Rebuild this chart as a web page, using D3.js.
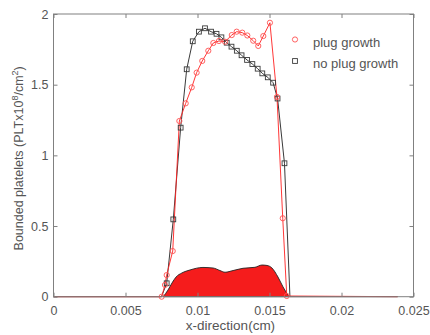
<!DOCTYPE html>
<html>
<head>
<meta charset="utf-8">
<script src="https://cdn.jsdelivr.net/npm/d3@7"></script>
<style>
  html, body { margin: 0; padding: 0; background: #fff; }
  svg { display: block; font-family: "Liberation Sans", Arial, sans-serif; }
</style>
</head>
<body>
<svg id="chart" width="430" height="335"></svg>
<script>
// ---- data ----
const xTicks = [0, 0.005, 0.01, 0.015, 0.02, 0.025];
const xTickLabels = ["0", "0.005", "0.01", "0.015", "0.02", "0.025"];
const yTicks = [0, 0.5, 1, 1.5, 2];
const yTickLabels = ["0", "0.5", "1", "1.5", "2"];

// plug growth (red circles)
const plugX = [0.00751, 0.00774, 0.00786, 0.00828, 0.00874, 0.00918, 0.0096, 0.00994, 0.01033, 0.01075,
               0.0111, 0.01149, 0.01191, 0.01238, 0.01272, 0.01311, 0.01346, 0.01387, 0.01422, 0.01457,
               0.01503, 0.01552, 0.01592, 0.0162];
const plugY = [0.0, 0.083, 0.153, 0.323, 1.243, 1.368, 1.481, 1.585, 1.668, 1.740,
               1.795, 1.809, 1.804, 1.851, 1.875, 1.868, 1.848, 1.811, 1.774, 1.844,
               1.938, 1.413, 0.555, 0.005];

// no plug growth (black squares)
const noPlugX = [0.00786, 0.00832, 0.00883, 0.00925, 0.00967, 0.0101, 0.01052, 0.01094, 0.01132, 0.01166,
                 0.01203, 0.01236, 0.01273, 0.01306, 0.01344, 0.01381, 0.01418, 0.0145, 0.01488, 0.01525,
                 0.01556, 0.01604];
const noPlugY = [0.095, 0.547, 1.196, 1.609, 1.807, 1.875, 1.899, 1.875, 1.860, 1.835,
                 1.797, 1.769, 1.740, 1.708, 1.675, 1.646, 1.613, 1.580, 1.552, 1.514,
                 1.402, 0.944];

// baseline portions of both lines (no markers)
const baseStartX = [0, 0.0075];
const baseEndX = [0.01642, 0.0239];

// filled region (plug thickness)
const fillX = [0.00762, 0.00795, 0.00823, 0.00851, 0.00892, 0.00948, 0.01038, 0.01108, 0.01156, 0.01191,
               0.01247, 0.01316, 0.01399, 0.01448, 0.01483, 0.01517, 0.01559, 0.01594, 0.01635];
const fillY = [0, 0.047, 0.097, 0.139, 0.168, 0.189, 0.207, 0.203, 0.185, 0.173,
               0.185, 0.201, 0.208, 0.224, 0.221, 0.203, 0.139, 0.069, 0];

const seriesNames = ["plug growth", "no plug growth"];

// ---- layout ----
const svg = d3.select("#chart");
const L = 53.5, R = 413.5, T = 14, B = 296.7;
const x = d3.scaleLinear().domain([0, 0.025]).range([L, R]);
const y = d3.scaleLinear().domain([0, 2]).range([B, T]);

const axisColor = "#808080";
const textColor = "#555";
const red = "#ff2020";
const dark = "#3a3a3a";

// fill area
const fillPts = fillX.map((d, i) => [d, fillY[i]]);
svg.append("path")
  .datum(fillPts)
  .attr("d", d3.area().x(d => x(d[0])).y0(y(0)).y1(d => y(d[1])).curve(d3.curveMonotoneX))
  .attr("fill", "#f51c1c")
  .attr("stroke", "#222")
  .attr("stroke-width", 0.9);

// lines
const line = d3.line().x(d => x(d[0])).y(d => y(d[1]));
const blackPts = baseStartX.map(v => [v, 0])
  .concat(noPlugX.map((d, i) => [d, noPlugY[i]]))
  .concat(baseEndX.map(v => [v, 0]));
const redPts = [[0, 0]]
  .concat(plugX.map((d, i) => [d, plugY[i]]))
  .concat([[baseEndX[1], 0]]);

svg.append("path").datum(blackPts).attr("d", line)
  .attr("fill", "none").attr("stroke", dark).attr("stroke-width", 1);
svg.append("path").datum(redPts).attr("d", line)
  .attr("fill", "none").attr("stroke", red).attr("stroke-width", 0.9);

// markers
svg.append("g").selectAll("rect")
  .data(noPlugX.map((d, i) => [d, noPlugY[i]]))
  .join("rect")
  .attr("x", d => x(d[0]) - 2.4).attr("y", d => y(d[1]) - 2.4)
  .attr("width", 4.8).attr("height", 4.8)
  .attr("fill", "none").attr("stroke", dark).attr("stroke-width", 0.9);

svg.append("g").selectAll("circle")
  .data(plugX.map((d, i) => [d, plugY[i]]))
  .join("circle")
  .attr("cx", d => x(d[0])).attr("cy", d => y(d[1]))
  .attr("r", 2.6)
  .attr("fill", "none").attr("stroke", "#ff5050").attr("stroke-width", 0.9);

// axes box
svg.append("rect").attr("x", L).attr("y", T).attr("width", R - L).attr("height", B - T)
  .attr("fill", "none").attr("stroke", axisColor).attr("stroke-width", 1);

const tl = 4;
const gx = svg.append("g").attr("transform", `translate(0,${B})`)
  .call(d3.axisBottom(x).tickValues(xTicks).tickSizeInner(-tl).tickSizeOuter(0).tickPadding(9)
    .tickFormat((d, i) => xTickLabels[i]));
const gxt = svg.append("g").attr("transform", `translate(0,${T})`)
  .call(d3.axisTop(x).tickValues(xTicks).tickSizeInner(-tl).tickSizeOuter(0).tickFormat(""));
const gy = svg.append("g").attr("transform", `translate(${L},0)`)
  .call(d3.axisLeft(y).tickValues(yTicks).tickSizeInner(-tl).tickSizeOuter(0).tickPadding(5)
    .tickFormat((d, i) => yTickLabels[i]));
const gyr = svg.append("g").attr("transform", `translate(${R},0)`)
  .call(d3.axisRight(y).tickValues(yTicks).tickSizeInner(-tl).tickSizeOuter(0).tickFormat(""));

[gx, gxt, gy, gyr].forEach(g => {
  g.select(".domain").remove();
  g.selectAll("line").attr("stroke", axisColor);
  g.selectAll("text").attr("fill", textColor).style("font-size", "12.5px")
    .style("font-family", "'Liberation Sans', Arial, sans-serif");
});

// axis labels
svg.append("text")
  .attr("x", (L + R) / 2 - 3).attr("y", 330)
  .attr("text-anchor", "middle").attr("fill", textColor)
  .style("font-size", "13.5px")
  .text("x-direction(cm)");

const yl = svg.append("text")
  .attr("transform", `translate(23,${(T + B) / 2 + 3}) rotate(-90)`)
  .attr("text-anchor", "middle").attr("fill", textColor)
  .style("font-size", "12.5px");
yl.append("tspan").text("Bounded platelets (PLTx10");
yl.append("tspan").attr("dy", -5).style("font-size", "9px").text("8");
yl.append("tspan").attr("dy", 5).text("/cm");
yl.append("tspan").attr("dy", -5).style("font-size", "9px").text("2");
yl.append("tspan").attr("dy", 5).text(")");

// legend
const lg = svg.append("g");
lg.append("circle").attr("cx", 295).attr("cy", 39.5).attr("r", 2.6)
  .attr("fill", "none").attr("stroke", "#ff5050").attr("stroke-width", 0.9);
lg.append("rect").attr("x", 292.6).attr("y", 58.6).attr("width", 4.8).attr("height", 4.8)
  .attr("fill", "none").attr("stroke", dark).attr("stroke-width", 0.9);
lg.append("text").attr("x", 313).attr("y", 46.5).attr("fill", textColor)
  .style("font-size", "13px").text(seriesNames[0]);
lg.append("text").attr("x", 313).attr("y", 67.5).attr("fill", textColor)
  .style("font-size", "13px").text(seriesNames[1]);
</script>
</body>
</html>
